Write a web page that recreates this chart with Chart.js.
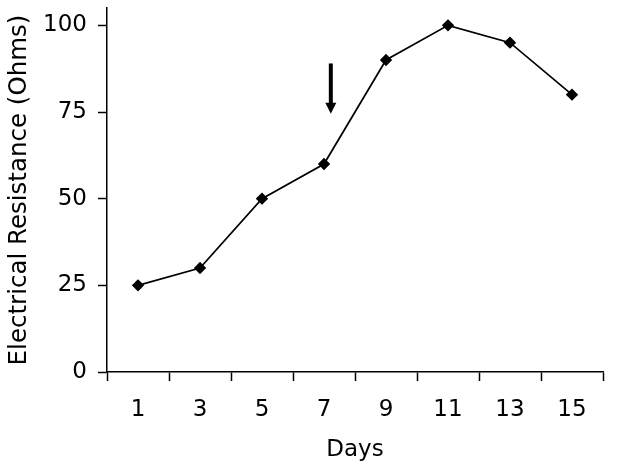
<!DOCTYPE html>
<html lang="en">
<head>
  <meta charset="UTF-8">
  <title>Electrical Resistance over Days</title>
  <script src="https://cdn.jsdelivr.net/npm/chart.js"></script>
  <style>
    html, body {
      margin: 0;
      padding: 0;
      background: #fff;
    }
    #wrap {
      width: 629px;
      height: 470px;
    }
  </style>
</head>
<body>
  <div id="wrap">
    <canvas id="resChart" width="629" height="470"></canvas>
  </div>

  <script>
    const days = ['1', '3', '5', '7', '9', '11', '13', '15'];
    const resistance = [25, 30, 50, 60, 90, 100, 95, 80];
    const yMin = 0;
    const yMax = 105;
    const yStep = 25;

    // arrow marker just right of day 7, in data units
    const arrowAt = 3.11;
    const arrowFrom = 89;
    const arrowTo = 74.5;

    const arrowPlugin = {
      id: 'arrow',
      afterDatasetsDraw(chart) {
        const { ctx, scales } = chart;
        const x = scales.x.getPixelForValue(arrowAt);
        const y1 = scales.y.getPixelForValue(arrowFrom);
        const y2 = scales.y.getPixelForValue(arrowTo);
        const head = 11;
        ctx.save();
        ctx.strokeStyle = '#000';
        ctx.fillStyle = '#000';
        ctx.lineWidth = 4;
        ctx.beginPath();
        ctx.moveTo(x, y1);
        ctx.lineTo(x, y2 - head + 1);
        ctx.stroke();
        ctx.beginPath();
        ctx.moveTo(x - 5.5, y2 - head);
        ctx.lineTo(x + 5.5, y2 - head);
        ctx.lineTo(x, y2);
        ctx.closePath();
        ctx.fill();
        ctx.restore();
      }
    };

    const tickFont = { family: 'DejaVu Sans', size: 23 };
    const xTitleFont = { family: 'DejaVu Sans', size: 23 };
    const yTitleFont = { family: 'DejaVu Sans', size: 24.5 };

    new Chart(document.getElementById('resChart'), {
      type: 'line',
      data: {
        labels: days,
        datasets: [{
          data: resistance,
          borderColor: '#000',
          borderWidth: 1.7,
          backgroundColor: '#000',
          pointStyle: 'rectRot',
          pointRadius: 5,
          pointBackgroundColor: '#000',
          pointBorderColor: '#000',
          tension: 0
        }]
      },
      options: {
        responsive: false,
        animation: false,
        layout: { padding: { top: 8, right: 26, bottom: 2, left: 4 } },
        plugins: {
          legend: { display: false },
          tooltip: { enabled: false }
        },
        scales: {
          x: {
            offset: true,
            afterFit(scale) {
              scale.height = 96;
            },
            grid: {
              offset: true,
              drawOnChartArea: false,
              drawTicks: true,
              tickLength: 9,
              tickWidth: 1.5,
              tickColor: '#000'
            },
            border: { color: '#000', width: 1.5 },
            ticks: { color: '#000', font: tickFont, padding: 15, maxRotation: 0 },
            title: {
              display: true,
              text: 'Days',
              color: '#000',
              font: xTitleFont,
              padding: { top: 0, bottom: 4 }
            }
          },
          y: {
            min: yMin,
            max: yMax,
            afterFit(scale) {
              // top tick is not at the edge, so no half-label room is needed
              scale.paddingTop = 0;
              scale.width = 103;
            },
            grid: {
              drawOnChartArea: false,
              drawTicks: true,
              tickLength: 9,
              tickWidth: 1.5,
              tickColor: '#000'
            },
            border: { color: '#000', width: 1.5 },
            ticks: {
              stepSize: yStep,
              includeBounds: false,
              color: '#000',
              font: tickFont,
              padding: 11
            },
            title: {
              display: true,
              text: 'Electrical Resistance (Ohms)',
              color: '#000',
              font: yTitleFont,
              padding: { top: 1, bottom: 3 }
            }
          }
        }
      },
      plugins: [arrowPlugin]
    });
  </script>
</body>
</html>
